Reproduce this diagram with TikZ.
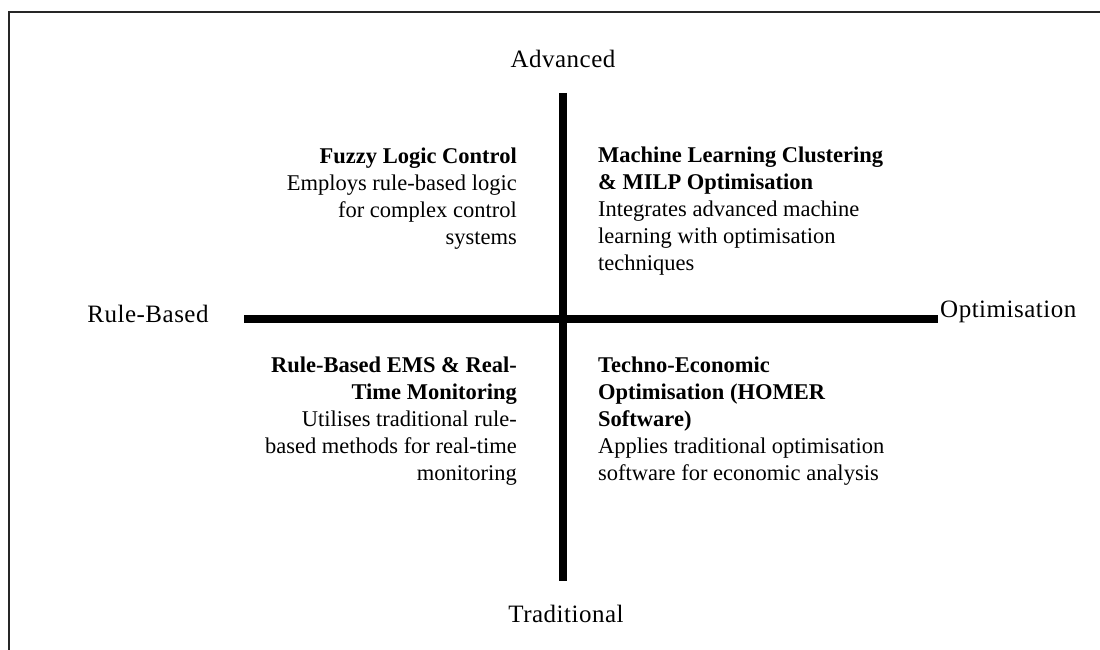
\documentclass[tikz,border=0pt]{standalone}
\usepackage{fontspec}
\setmainfont{Liberation Serif}
\newfontfamily\axisfont[LetterSpace=2]{Liberation Serif}
\newfontfamily\quadfont{Liberation Serif}
\begin{document}
\begin{tikzpicture}[x=1pt,y=-1pt,
  frameline/.style={line width=2pt,draw=black!85},
  axisline/.style={line width=8.5pt,draw=black},
  axislabel/.style={inner sep=0pt,font=\axisfont\fontsize{25}{29}\selectfont},
  quadtext/.style={inner sep=0pt,font=\quadfont\fontsize{22.5}{27}\selectfont}
]
\useasboundingbox (0,0) rectangle (1100,650);
% frame
\coordinate (ftr) at (1100,12);
\coordinate (ftl) at (9,12);
\coordinate (fbl) at (9,650);
\draw[frameline] (ftr) -- (ftl) -- (fbl);
% axes
\coordinate (hl) at (244,319);
\coordinate (hr) at (938,319);
\coordinate (vt) at (563,93);
\coordinate (vb) at (563,581);
\draw[axisline] (hl) -- (hr);
\draw[axisline] (vt) -- (vb);
% axis labels
\node[axislabel,anchor=base] (adv) at (563,68) {Advanced};
\node[axislabel,anchor=base] (trad) at (566,622) {Traditional};
\node[axislabel,anchor=base] (rule) at (148,322) {Rule-Based};
\node[axislabel,anchor=base west] (opt) at (940,317) {Optimisation};
% quadrants
\node[quadtext,anchor=north east,align=right] (fuzzy) at (517,148)
  {\textbf{Fuzzy Logic Control}\\Employs rule-based logic\\for complex control\\systems};
\node[quadtext,anchor=north west,align=left] (ml) at (598,147)
  {\textbf{Machine Learning Clustering}\\\textbf{\& MILP Optimisation}\\Integrates advanced machine\\learning with optimisation\\techniques};
\node[quadtext,anchor=north east,align=right] (ems) at (517,357)
  {\textbf{Rule-Based EMS \& Real-}\\\textbf{Time Monitoring}\\Utilises traditional rule-\\based methods for real-time\\monitoring};
\node[quadtext,anchor=north west,align=left] (homer) at (598,357)
  {\textbf{Techno-Economic}\\\textbf{Optimisation (HOMER}\\\textbf{Software)}\\Applies traditional optimisation\\software for economic analysis};
\end{tikzpicture}
\end{document}
